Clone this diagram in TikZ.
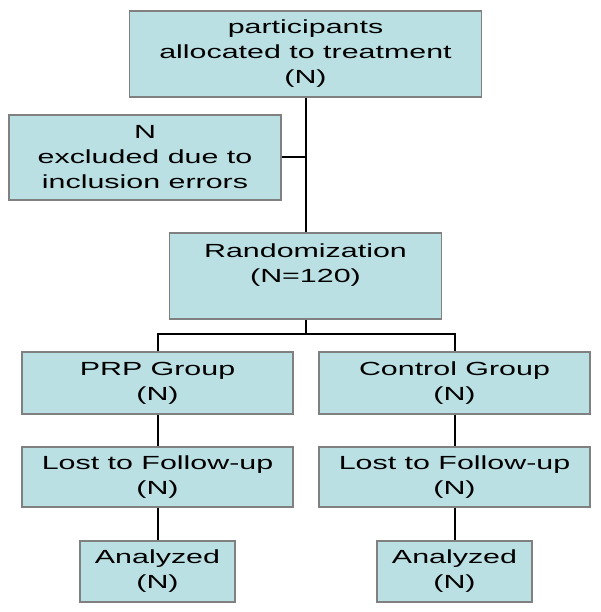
\documentclass[tikz,border=0pt]{standalone}
\usepackage{fontspec}
\setmainfont{Liberation Sans}[FakeStretch=1.6]
\definecolor{boxfill}{RGB}{187,224,227}
\definecolor{boxline}{RGB}{128,128,128}
\tikzset{
  fbox/.style={draw=boxline, line width=1.6pt, fill=boxfill, rectangle, inner sep=0pt,
    align=center, font=\fontsize{19}{25}\selectfont, text=black},
  conn/.style={draw=black, line width=2pt}
}
\begin{document}
\begin{tikzpicture}[x=1pt,y=-1pt]
\useasboundingbox (0,0) rectangle (600,612);
\node[fbox, minimum width=352pt, minimum height=86pt] (top) at (305.5,54) {participants\\allocated to treatment\\(N)};
\node[fbox, minimum width=272pt, minimum height=85pt] (excl) at (145,157.5) {N\\excluded due to\\inclusion errors};
\node[fbox, minimum width=272pt, minimum height=86pt] (rand) at (305.5,276) {Randomization\\(N=120)\\\mbox{}};
\node[fbox, minimum width=271pt, minimum height=62pt] (prp) at (157.5,383) {PRP Group\\(N)};
\node[fbox, minimum width=271pt, minimum height=62pt] (ctrl) at (454.5,383) {Control Group\\(N)};
\node[fbox, minimum width=271pt, minimum height=60pt] (lostL) at (157.5,477) {Lost to Follow-up\\(N)};
\node[fbox, minimum width=271pt, minimum height=60pt] (lostR) at (454.5,477) {Lost to Follow-up\\(N)};
\node[fbox, minimum width=155pt, minimum height=61pt] (anaL) at (157.5,571.5) {Analyzed\\(N)};
\node[fbox, minimum width=155pt, minimum height=61pt] (anaR) at (454.5,571.5) {Analyzed\\(N)};
\coordinate (bus) at (305.5,334);
\draw[conn] (top.south) -- (rand.north);
\draw[conn] (excl.east) -- (excl.east -| top.south);
\draw[conn] (rand.south) -- (bus);
\draw[conn] (prp.north) -- (prp.north |- bus) -- (ctrl.north |- bus) -- (ctrl.north);
\draw[conn] (prp.south) -- (lostL.north);
\draw[conn] (ctrl.south) -- (lostR.north);
\draw[conn] (lostL.south) -- (anaL.north);
\draw[conn] (lostR.south) -- (anaR.north);
\end{tikzpicture}
\end{document}
